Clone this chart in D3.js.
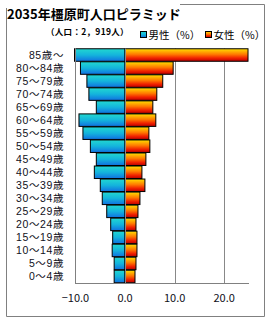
<!DOCTYPE html>
<html><head><meta charset="utf-8">
<script src="https://cdn.jsdelivr.net/npm/d3@7"></script>
<style>body{margin:0;background:#fff}svg{display:block;font-family:"Noto Sans CJK JP",sans-serif}</style>
</head><body>
<script>
const categories = ["85歳〜","80〜84歳","75〜79歳","70〜74歳","65〜69歳","60〜64歳","55〜59歳","50〜54歳","45〜49歳","40〜44歳","35〜39歳","30〜34歳","25〜29歳","20〜24歳","15〜19歳","10〜14歳","5〜9歳","0〜4歳"];
const male =   [10.2, 9.0, 7.7, 7.3, 5.8, 9.3, 8.5, 7.0, 5.8, 6.2, 5.0, 4.6, 3.7, 2.9, 2.5, 2.6, 2.2, 2.2];
const female = [24.8, 9.7, 7.6, 6.4, 5.6, 6.2, 4.8, 5.0, 4.2, 3.4, 4.0, 3.0, 2.6, 2.2, 2.4, 2.4, 2.2, 2.0];
const xTicks = [-10, 0, 10, 20];
const title = "2035年橿原町人口ピラミッド";
const subtitle = "（人口：2，919人）";
const legendLabels = ["男性（%）", "女性（%）"];

const W = 270, H = 320;
const svg = d3.select("body").append("svg").attr("width", W).attr("height", H);
const defs = svg.append("defs");
const gb = defs.append("linearGradient").attr("id","gBlue").attr("x1",0).attr("y1",0).attr("x2",0).attr("y2",1);
gb.append("stop").attr("offset","0%").attr("stop-color","#22d8d0");
gb.append("stop").attr("offset","50%").attr("stop-color","#14b4dc");
gb.append("stop").attr("offset","100%").attr("stop-color","#1070e0");
const gr = defs.append("linearGradient").attr("id","gRed").attr("x1",0).attr("y1",0).attr("x2",0).attr("y2",1);
gr.append("stop").attr("offset","0%").attr("stop-color","#ffe000");
gr.append("stop").attr("offset","45%").attr("stop-color","#ff7800");
gr.append("stop").attr("offset","75%").attr("stop-color","#f02000");
gr.append("stop").attr("offset","100%").attr("stop-color","#b80000");

// frame
const frame = svg.append("g").attr("stroke","#808080").attr("fill","none");
frame.append("line").attr("x1",6.5).attr("x2",6.5).attr("y1",8).attr("y2",316.5);
frame.append("line").attr("x1",6.5).attr("x2",264.5).attr("y1",316.5).attr("y2",316.5);
frame.append("line").attr("x1",264.5).attr("x2",264.5).attr("y1",4.5).attr("y2",316.5);
frame.append("line").attr("x1",180).attr("x2",264.5).attr("y1",4.5).attr("y2",4.5);

const x = d3.scaleLinear().domain([-10, 25]).range([75.5, 249]);
const y = d3.scaleBand().domain(categories).range([48.5, 283]).paddingInner(0.04).paddingOuter(0.02);

// gridlines
svg.append("g").selectAll("line").data([0,10,20]).join("line")
  .attr("x1", d=>Math.round(x(d))+0.5).attr("x2", d=>Math.round(x(d))+0.5)
  .attr("y1", 48.5).attr("y2", 283).attr("stroke","#888").attr("stroke-width",1);

// bars
svg.append("g").selectAll("rect").data(categories).join("rect")
  .attr("x", (d,i)=>x(-male[i])).attr("width",(d,i)=>x(0)-x(-male[i]))
  .attr("y", d=>y(d)).attr("height", y.bandwidth())
  .attr("fill","url(#gBlue)").attr("stroke","#000").attr("stroke-width",1);
svg.append("g").selectAll("rect").data(categories).join("rect")
  .attr("x", x(0)).attr("width",(d,i)=>x(female[i])-x(0))
  .attr("y", d=>y(d)).attr("height", y.bandwidth())
  .attr("fill","url(#gRed)").attr("stroke","#000").attr("stroke-width",1);
// zero line over bars
svg.append("line").attr("x1",Math.round(x(0))+0.5).attr("x2",Math.round(x(0))+0.5)
  .attr("y1",48.5).attr("y2",283).attr("stroke","#888");

// axes lines
svg.append("line").attr("x1",75.5).attr("x2",75.5).attr("y1",48).attr("y2",283.5).attr("stroke","#808080");
svg.append("line").attr("x1",75).attr("x2",249).attr("y1",283.5).attr("y2",283.5).attr("stroke","#808080");

// category labels
svg.append("g").selectAll("text").data(categories).join("text")
  .attr("x", 64).attr("y", d=>y(d)+y.bandwidth()/2+3.8)
  .attr("text-anchor","end").attr("font-size",10.5).attr("letter-spacing",0.6)
  .attr("font-family","'Liberation Sans','Noto Sans CJK JP',sans-serif")
  .attr("fill","#101020").text(d=>d);

// x tick labels
svg.append("g").selectAll("text").data(xTicks).join("text")
  .attr("x", d=>x(d)).attr("y", 302).attr("text-anchor","middle")
  .attr("font-size",11).attr("fill","#101020").text(d=>d3.format(".1f")(d));

// title
svg.append("text").attr("x",7).attr("y",19).attr("font-size",13).attr("font-weight","bold").attr("fill","#000").text(title);
svg.append("text").attr("x",46).attr("y",35).attr("font-size",8.5).attr("font-weight","bold").attr("letter-spacing",0.3).attr("fill","#000").text(subtitle);

// legend
const lg = svg.append("g");
const lx = [140.5, 205.5];
legendLabels.forEach((t,i)=>{
  lg.append("rect").attr("x",lx[i]).attr("y",31.5).attr("width",6).attr("height",6)
    .attr("fill", i===0?"url(#gBlue)":"url(#gRed)").attr("stroke","#000");
  lg.append("text").attr("x",lx[i]+8).attr("y",38.5).attr("font-size",10.5).attr("fill","#000").text(t);
});
</script>
</body></html>
